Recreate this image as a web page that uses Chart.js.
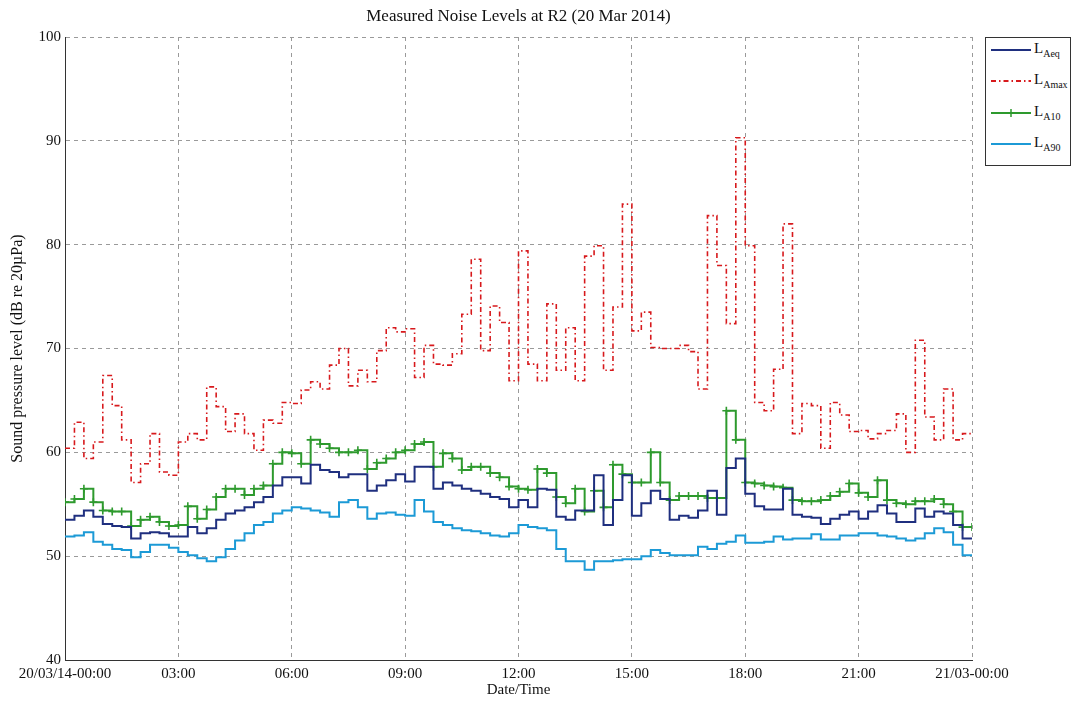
<!DOCTYPE html>
<html>
<head>
<meta charset="utf-8">
<title>Measured Noise Levels at R2</title>
<script src="https://cdn.jsdelivr.net/npm/chart.js@4.4.1/dist/chart.umd.min.js"></script>
<style>
  body { margin: 0; background: #fff; }
  #wrap { position: relative; width: 1081px; height: 706px; font-family: "Liberation Serif", "Times New Roman", serif; }
  #title { position: absolute; left: 65px; width: 907px; top: 6px; text-align: center; font-size: 17px; color: #111; }
  #legend { position: absolute; left: 985px; top: 37px; width: 86px; height: 129px; border: 1px solid #333; background: #fff; box-sizing: border-box; }
  .item { position: absolute; left: 4px; height: 20px; font-size: 15px; color: #111; }
  .item svg { position: absolute; left: 0; top: 0; }
  .item span { position: absolute; left: 44px; top: 0px; white-space: nowrap; }
  .item sub { font-size: 10px; }
</style>
</head>
<body>
<div id="wrap">
  <canvas id="myChart" width="1081" height="706"></canvas>
  <div id="title">Measured Noise Levels at R2 (20 Mar 2014)</div>
  <div id="legend">
    <div class="item" style="top:2px"><svg width="42" height="20"><line x1="1" y1="10" x2="41" y2="10" stroke="#1f2f7f" stroke-width="2.2"/></svg><span>L<sub>Aeq</sub></span></div>
    <div class="item" style="top:33px"><svg width="42" height="20"><line x1="1" y1="10" x2="41" y2="10" stroke="#d7191c" stroke-width="1.8" stroke-dasharray="5 3 1.5 3"/></svg><span>L<sub>Amax</sub></span></div>
    <div class="item" style="top:65px"><svg width="42" height="20"><line x1="1" y1="10" x2="41" y2="10" stroke="#2e9a2e" stroke-width="2.2"/><line x1="21" y1="6" x2="21" y2="14" stroke="#2e9a2e" stroke-width="1.5"/><line x1="17" y1="10" x2="25" y2="10" stroke="#2e9a2e" stroke-width="1.5"/></svg><span>L<sub>A10</sub></span></div>
    <div class="item" style="top:96px"><svg width="42" height="20"><line x1="1" y1="10" x2="41" y2="10" stroke="#1c9ad6" stroke-width="2.2"/></svg><span>L<sub>A90</sub></span></div>
  </div>
</div>
<script>
// 15-minute values, 00:00 -> 23:45
var laeq = [
  53.5,53.9,54.4,53.8,53.1,52.9,52.8,51.7,52.2,52.3,52.2,51.9,
  51.9,52.8,52.2,52.7,53.5,54.1,54.4,54.7,55.2,55.7,56.8,57.6,
  57.6,57.0,58.8,58.3,58.1,57.6,57.9,57.9,56.3,56.8,57.3,57.9,
  57.2,58.6,58.6,56.5,57.1,56.8,56.5,56.3,56.0,55.7,55.5,54.7,
  55.4,54.7,56.5,56.4,53.8,53.5,54.4,54.4,57.8,53.0,55.4,57.8,
  53.9,55.1,56.3,55.5,53.5,53.9,53.7,54.4,56.3,54.0,58.5,59.4,
  56.0,54.8,54.5,54.5,56.5,54.0,53.8,53.7,53.1,53.6,54.0,54.3,
  53.6,54.3,54.9,54.1,53.3,53.3,54.6,53.8,54.3,54.1,53.0,51.7
];
var lamax = [
  60.4,62.9,59.4,61.0,67.4,64.5,61.2,57.1,58.9,61.8,58.1,57.8,
  61.0,61.8,61.2,66.3,64.4,62.0,63.7,61.8,60.2,63.1,62.8,64.8,
  64.7,66.0,66.8,66.1,68.4,70.0,66.4,67.9,66.8,69.8,72.0,71.6,
  71.9,67.2,70.3,68.5,68.4,69.5,73.3,78.6,69.8,74.1,72.5,66.9,
  79.4,68.5,66.9,74.3,67.9,72.0,66.9,78.9,79.9,67.9,74.0,83.9,
  71.7,73.5,70.1,70.0,70.0,70.3,69.7,66.1,82.8,78.0,72.4,90.3,
  79.9,64.8,64.0,68.0,82.0,61.8,64.7,64.5,60.4,64.8,63.6,62.0,
  62.1,61.3,61.8,62.1,63.7,60.0,70.8,63.4,61.2,66.1,61.2,61.8
];
var la10 = [
  55.2,55.5,56.5,55.2,54.4,54.3,54.3,52.9,53.5,53.8,53.3,52.9,
  53.0,54.8,53.6,54.5,55.7,56.5,56.5,55.9,56.5,56.8,58.9,60.0,
  59.9,58.9,61.2,60.8,60.4,60.0,60.0,60.2,58.4,59.0,59.4,60.0,
  60.2,60.8,61.0,58.6,59.9,59.4,58.3,58.6,58.6,58.0,57.6,56.7,
  56.5,56.4,58.4,58.0,55.7,55.1,56.5,54.3,56.3,54.7,58.8,57.9,
  57.1,57.1,60.0,57.1,55.4,55.8,55.8,55.8,55.6,55.6,64.0,61.2,
  57.1,57.0,56.8,56.7,56.6,55.4,55.3,55.3,55.4,55.8,56.2,57.0,
  56.1,55.7,57.3,55.4,55.1,55.0,55.3,55.3,55.5,55.0,54.3,52.8
];
var la90 = [
  51.9,52.0,52.3,51.4,51.1,50.7,50.6,49.9,50.4,51.1,51.1,50.8,
  50.4,50.1,49.8,49.5,49.9,50.7,51.5,52.2,53.0,53.3,54.1,54.4,
  54.7,54.6,54.4,54.2,53.8,55.2,55.4,54.7,53.6,54.1,54.2,54.0,
  53.9,55.4,54.3,53.3,53.0,52.7,52.5,52.4,52.2,52.0,51.9,52.2,
  53.0,52.8,52.7,52.5,50.7,49.5,49.5,48.7,49.5,49.5,49.6,49.7,
  49.7,50.0,50.6,50.3,50.1,50.1,50.1,50.9,50.7,51.2,51.4,52.0,
  51.3,51.3,51.4,51.9,51.6,51.7,51.7,52.1,51.6,51.6,52.0,52.0,
  52.2,52.2,52.0,51.9,51.7,51.5,51.7,52.2,52.7,52.3,51.1,50.1
];
var tickLabels = ['20/03/14-00:00','03:00','06:00','09:00','12:00','15:00','18:00','21:00','21/03-00:00'];

// stairs: each value holds for its 15 min, last one runs to 24:00
function toSteps(arr){
    var pts = [];
    for(let i=0;i<arr.length;i++){
        pts.push({x: i*0.25, y: arr[i]});
    }
    pts.push({x: 24, y: arr[arr.length-1]});
    return pts;
}

var serif = "'Liberation Serif', 'Times New Roman', serif";
var tickFont = {family: serif, size: 15};

var ctx = document.getElementById('myChart').getContext('2d');
var myChart = new Chart(ctx, {
    type: 'line',
    data: {
        datasets: [{
            label: 'LAeq',
            data: toSteps(laeq),
            borderColor: '#1f2f7f',
            borderWidth: 2,
            pointRadius: 0,
            stepped: true
        }, {
            label: 'LAmax',
            data: toSteps(lamax),
            borderColor: '#d7191c',
            borderWidth: 1.6,
            borderDash: [5, 3, 1.5, 3],
            pointRadius: 0,
            stepped: true
        }, {
            label: 'LA10',
            data: toSteps(la10),
            borderColor: '#2e9a2e',
            borderWidth: 2,
            pointStyle: 'cross',
            pointRadius: 4,
            pointBorderWidth: 1.6,
            pointBorderColor: '#2e9a2e',
            stepped: true
        }, {
            label: 'LA90',
            data: toSteps(la90),
            borderColor: '#1c9ad6',
            borderWidth: 2,
            pointRadius: 0,
            stepped: true
        }]
    },
    options: {
        responsive: false,
        animation: false,
        devicePixelRatio: 1,
        layout: {padding: {left: 0, right: 109, top: 37, bottom: 0}},
        plugins: {
            legend: {display: false},
            title: {display: false},
            tooltip: {enabled: false}
        },
        scales: {
            x: {
                type: 'linear',
                min: 0,
                max: 24,
                afterFit: function(s){ s.height = 46; },
                ticks: {
                    stepSize: 3,
                    autoSkip: false,
                    maxRotation: 0,
                    padding: 5,
                    color: '#111',
                    font: tickFont,
                    callback: function(v){ return tickLabels[v/3]; }
                },
                grid: {color: '#9a9a9a', lineWidth: 1, drawTicks: false},
                border: {display: true, color: '#333', width: 1, dash: [4, 4]},
                title: {display: true, text: 'Date/Time', color: '#111', font: {family: serif, size: 15}, padding: {top: 0, bottom: 7}}
            },
            y: {
                min: 40,
                max: 100,
                afterFit: function(s){ s.width = 65; },
                ticks: {stepSize: 10, padding: 4, color: '#111', font: tickFont},
                grid: {color: '#9a9a9a', lineWidth: 1, drawTicks: false},
                border: {display: true, color: '#333', width: 1, dash: [4, 4]},
                title: {display: true, text: 'Sound pressure level (dB re 20µPa)', color: '#111', font: {family: serif, size: 16}, padding: {top: 8, bottom: 0}}
            }
        }
    }
});
</script>
</body>
</html>
